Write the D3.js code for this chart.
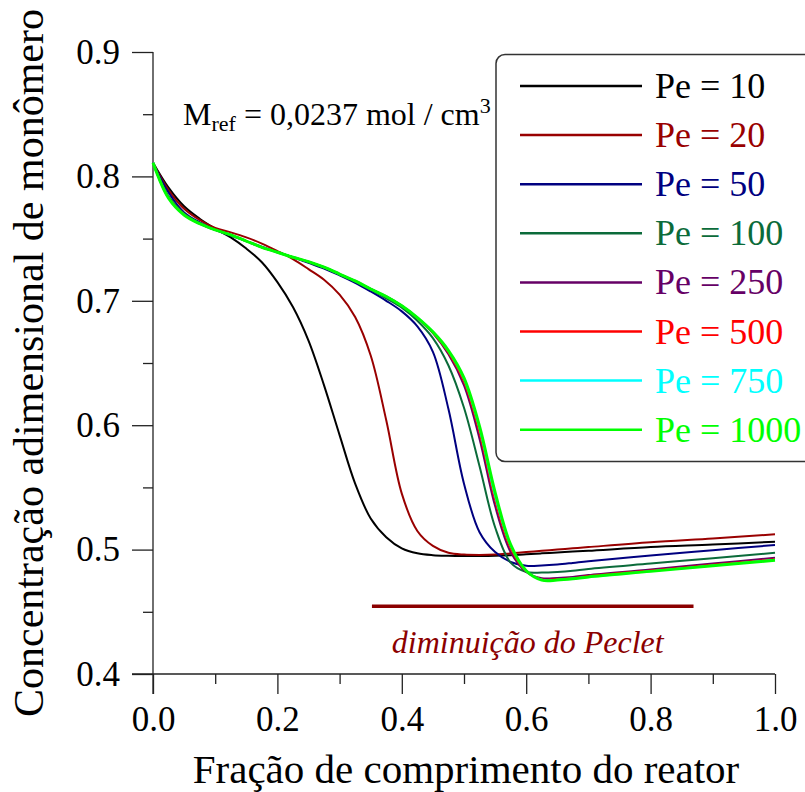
<!DOCTYPE html>
<html>
<head>
<meta charset="utf-8">
<script src="https://cdn.jsdelivr.net/npm/d3@7"></script>
<style>
  html, body { margin: 0; padding: 0; background: #fff; }
  svg { display: block; }
  svg text { font-family: "Liberation Serif", "Times New Roman", Times, serif !important; }
</style>
</head>
<body>
<svg id="chart" width="805" height="792"></svg>
<script>
// ---------- DATA ----------
const xGrid = [0, 0.025, 0.05, 0.075, 0.1, 0.125, 0.15, 0.175, 0.2, 0.225, 0.25, 0.275, 0.3, 0.325, 0.35, 0.375,
               0.4, 0.425, 0.45, 0.475, 0.5, 0.525, 0.55, 0.575, 0.6, 0.625, 0.65, 0.675, 0.7, 0.8, 0.9, 1.0];

const pe10   = [0.811, 0.791, 0.776, 0.766, 0.758, 0.751, 0.742, 0.731, 0.715, 0.695, 0.668, 0.632, 0.592, 0.553, 0.525, 0.510,
                0.501, 0.497, 0.4955, 0.495, 0.4948, 0.4948, 0.495, 0.4955, 0.4963, 0.497, 0.4977, 0.4984, 0.499, 0.502, 0.504, 0.5063];
const pe20   = [0.811, 0.789, 0.774, 0.765, 0.7585, 0.755, 0.751, 0.746, 0.740, 0.7335, 0.7255, 0.717, 0.705, 0.687, 0.656, 0.604,
                0.545, 0.515, 0.503, 0.4975, 0.496, 0.4957, 0.496, 0.497, 0.498, 0.499, 0.500, 0.501, 0.502, 0.506, 0.509, 0.5123];
const pe50   = [0.811, 0.787, 0.771, 0.763, 0.757, 0.7525, 0.748, 0.7435, 0.739, 0.735, 0.7305, 0.726, 0.7205, 0.7145, 0.7075, 0.700,
                0.6915, 0.6795, 0.659, 0.613, 0.553, 0.514, 0.498, 0.490, 0.487, 0.4872, 0.488, 0.4893, 0.4907, 0.4953, 0.4995, 0.5037];
const pe100  = [0.811, 0.784, 0.770, 0.7625, 0.757, 0.753, 0.748, 0.743, 0.739, 0.735, 0.731, 0.7265, 0.721, 0.7155, 0.709, 0.702,
                0.6945, 0.684, 0.670, 0.648, 0.614, 0.567, 0.518, 0.4895, 0.482, 0.4815, 0.482, 0.483, 0.4845, 0.4888, 0.493, 0.4975];
const pe250  = [0.811, 0.783, 0.7695, 0.762, 0.757, 0.753, 0.748, 0.743, 0.739, 0.735, 0.7315, 0.727, 0.7215, 0.716, 0.7095, 0.7035,
                0.696, 0.6862, 0.674, 0.657, 0.632, 0.589, 0.535, 0.498, 0.482, 0.477, 0.4772, 0.478, 0.4795, 0.484, 0.4888, 0.4935];
const pe500  = [0.811, 0.7828, 0.7692, 0.762, 0.757, 0.753, 0.748, 0.743, 0.739, 0.735, 0.7315, 0.727, 0.7215, 0.716, 0.7095, 0.7035,
                0.696, 0.6864, 0.6745, 0.6585, 0.635, 0.594, 0.540, 0.501, 0.4825, 0.476, 0.4762, 0.477, 0.4787, 0.4832, 0.4878, 0.4923];
const pe750  = [0.811, 0.7826, 0.7691, 0.762, 0.757, 0.753, 0.748, 0.743, 0.739, 0.735, 0.7315, 0.727, 0.7215, 0.716, 0.7095, 0.7035,
                0.696, 0.6865, 0.675, 0.6595, 0.637, 0.597, 0.543, 0.503, 0.483, 0.4757, 0.4757, 0.4767, 0.478, 0.4827, 0.4872, 0.4918];
const pe1000 = [0.811, 0.7825, 0.769, 0.762, 0.757, 0.753, 0.748, 0.743, 0.739, 0.735, 0.7315, 0.727, 0.7215, 0.716, 0.7095, 0.7035,
                0.696, 0.6865, 0.675, 0.660, 0.638, 0.599, 0.546, 0.504, 0.483, 0.4755, 0.4755, 0.4765, 0.478, 0.4825, 0.487, 0.4914];

const seriesLabels = ["Pe = 10", "Pe = 20", "Pe = 50", "Pe = 100", "Pe = 250", "Pe = 500", "Pe = 750", "Pe = 1000"];
const seriesValues = [pe10, pe20, pe50, pe100, pe250, pe500, pe750, pe1000];
const seriesColors = ["#000000", "#990000", "#000080", "#0b6b3a", "#660066", "#ff0000", "#00ffff", "#00ff00"];
const seriesWidths = [2, 2, 2, 2, 2, 2, 2, 3];

const xTickMajor = [0, 0.2, 0.4, 0.6, 0.8, 1.0];
const xTickMinor = [0.1, 0.3, 0.5, 0.7, 0.9];
const yTickMajor = [0.4, 0.5, 0.6, 0.7, 0.8, 0.9];
const yTickMinor = [0.45, 0.55, 0.65, 0.75, 0.85];

const xTitle = "Fração de comprimento do reator";
const yTitle = "Concentração adimensional de monômero";
const arrowText = "diminuição do Peclet";
const arrowSpan = [0.352, 0.869];   // x extent of the annotation bar (data units)
const arrowLevel = 0.4545;           // y level of the annotation bar (data units)

// ---------- LAYOUT ----------
const FONT = "'Liberation Serif', 'Times New Roman', Times, serif";
const svg = d3.select("#chart");
const pL = 153, pR = 775, pT = 52, pB = 674;
const x = d3.scaleLinear().domain([0, 1]).range([pL, pR]);
const y = d3.scaleLinear().domain([0.4, 0.9]).range([pB, pT]);
const axisColor = "#222";

const gx = svg.append("g").attr("transform", `translate(0,${pB})`);
gx.call(d3.axisBottom(x).tickValues(xTickMajor).tickSize(20).tickPadding(12).tickFormat(d3.format(".1f")));
gx.attr("font-family", FONT);
gx.select(".domain").remove();
gx.selectAll(".tick line").attr("stroke", axisColor).attr("stroke-width", 1.3);
gx.selectAll(".tick text").attr("font-size", 35).attr("fill", "#000").style("font-family", FONT);
const gxm = svg.append("g").attr("transform", `translate(0,${pB})`);
gxm.call(d3.axisBottom(x).tickValues(xTickMinor).tickSize(10).tickFormat(""));
gxm.select(".domain").remove();
gxm.selectAll(".tick line").attr("stroke", axisColor).attr("stroke-width", 1.3);

const gy = svg.append("g").attr("transform", `translate(${pL},0)`);
gy.call(d3.axisLeft(y).tickValues(yTickMajor).tickSize(21).tickPadding(12).tickFormat(d3.format(".1f")));
gy.attr("font-family", FONT);
gy.select(".domain").remove();
gy.selectAll(".tick line").attr("stroke", axisColor).attr("stroke-width", 1.3);
gy.selectAll(".tick text").attr("font-size", 35).attr("fill", "#000").style("font-family", FONT);
const gym = svg.append("g").attr("transform", `translate(${pL},0)`);
gym.call(d3.axisLeft(y).tickValues(yTickMinor).tickSize(10).tickFormat(""));
gym.select(".domain").remove();
gym.selectAll(".tick line").attr("stroke", axisColor).attr("stroke-width", 1.3);

svg.append("line").attr("x1", pL - 21).attr("x2", pR).attr("y1", pB).attr("y2", pB)
  .attr("stroke", axisColor).attr("stroke-width", 1.3);
svg.append("line").attr("x1", pL).attr("x2", pL).attr("y1", pT).attr("y2", pB + 20)
  .attr("stroke", axisColor).attr("stroke-width", 1.3);

svg.append("text").attr("x", (pL + pR) / 2 + 2).attr("y", 783).attr("text-anchor", "middle")
  .attr("font-size", 41).attr("fill", "#000").style("font-family", FONT).text(xTitle);
svg.append("text").attr("transform", `translate(43,${(pT + pB) / 2}) rotate(-90)`)
  .attr("text-anchor", "middle").attr("font-size", 42).attr("fill", "#000").style("font-family", FONT).text(yTitle);

const line = d3.line().x(d => x(d[0])).y(d => y(d[1])).curve(d3.curveCatmullRom.alpha(0.5));
seriesValues.forEach((vals, i) => {
  svg.append("path")
    .datum(xGrid.map((xv, k) => [xv, vals[k]]))
    .attr("fill", "none")
    .attr("stroke", seriesColors[i])
    .attr("stroke-width", seriesWidths[i])
    .attr("stroke-linejoin", "round")
    .attr("d", line);
});

const mref = svg.append("text").attr("x", 183).attr("y", 125).attr("font-size", 32).attr("fill", "#000")
  .style("font-family", FONT);
mref.append("tspan").text("M");
mref.append("tspan").attr("font-size", 22).attr("dy", 6).text("ref");
mref.append("tspan").attr("dy", -6).text(" = 0,0237 mol / cm");
mref.append("tspan").attr("font-size", 22).attr("dy", -12).text("3");

svg.append("line")
  .attr("x1", x(arrowSpan[0])).attr("x2", x(arrowSpan[1]))
  .attr("y1", y(arrowLevel)).attr("y2", y(arrowLevel))
  .attr("stroke", "#8b0000").attr("stroke-width", 3.5);
svg.append("text").attr("x", (x(arrowSpan[0]) + x(arrowSpan[1])) / 2 - 5).attr("y", 653)
  .attr("text-anchor", "middle").attr("font-size", 32).attr("font-style", "italic")
  .attr("fill", "#8b0000").style("font-family", FONT).text(arrowText);

const lg = svg.append("g");
lg.append("rect").attr("x", 496).attr("y", 54.5).attr("width", 330).attr("height", 407)
  .attr("rx", 9).attr("ry", 9).attr("fill", "#fff").attr("stroke", "#333").attr("stroke-width", 1.5);
seriesLabels.forEach((lab, i) => {
  const ry = 86 + i * 49.1;
  lg.append("line").attr("x1", 520).attr("x2", 642).attr("y1", ry).attr("y2", ry)
    .attr("stroke", seriesColors[i]).attr("stroke-width", 2.5);
  lg.append("text").attr("x", 655).attr("y", ry + 12).attr("font-size", 36)
    .attr("fill", seriesColors[i]).style("font-family", FONT).text(lab);
});
</script>
</body>
</html>
